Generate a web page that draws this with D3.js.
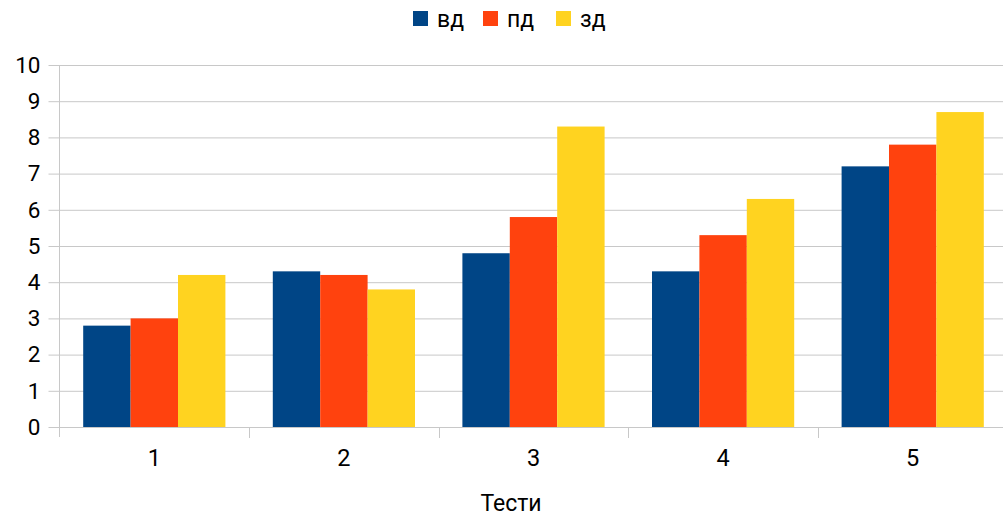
<!DOCTYPE html>
<html><head><meta charset="utf-8">
<script src="https://cdn.jsdelivr.net/npm/d3@7"></script>
<style>body{margin:0;background:#fff}svg{display:block;font-family:Roboto,"Liberation Sans",sans-serif}</style>
</head><body><svg id="c" width="1003" height="517"></svg>
<script>
const categories = ["1","2","3","4","5"];
const seriesNames = ["вд","пд","зд"];
const vd = [2.8,4.3,4.8,4.3,7.2];
const pd = [3.0,4.2,5.8,5.3,7.8];
const zd = [4.2,3.8,8.3,6.3,8.7];
const yTicks = [0,1,2,3,4,5,6,7,8,9,10];
const colors = ["#004586","#ff420e","#ffd320"];
const xTitle = "Тести";

const series = [vd,pd,zd];
const svg = d3.select("#c");
const L = 59.5, R = 1007.5, W = 1003, T = 65, B = 427;
const x = d3.scaleBand().domain(categories).range([L,R]).paddingInner(0).paddingOuter(0);
const xs = d3.scaleBand().domain(seriesNames).range([0,x.bandwidth()]).paddingInner(0).paddingOuter(0.5);
const y = d3.scaleLinear().domain([0,10]).range([B,T]);

// grid
const ya = d3.axisLeft(y).tickValues(yTicks).tickSize(-(W-L)).tickPadding(8);
const gy = svg.append("g").attr("transform",`translate(${L},0)`).call(ya);
gy.select(".domain").remove();
gy.selectAll(".tick line").attr("stroke","#c8c8c8").attr("x1",-11).attr("x2",W-L);
gy.selectAll(".tick text").attr("font-size",22.5).attr("fill","#000").attr("x",-19).attr("font-family","Roboto");

// vertical axis line
svg.append("line").attr("x1",L).attr("x2",L).attr("y1",T).attr("y2",B+10).attr("stroke","#c8c8c8");

// bars
categories.forEach((c,i)=>{
  series.forEach((s,j)=>{
    svg.append("rect")
      .attr("x", x(c)+xs(seriesNames[j]))
      .attr("width", xs.bandwidth())
      .attr("y", y(s[i]))
      .attr("height", y(0)-y(s[i]))
      .attr("fill", colors[j]);
  });
});

// x axis
const xa = d3.axisBottom(x).tickSize(0).tickPadding(22);
const gx = svg.append("g").attr("transform",`translate(0,${B})`).call(xa);
gx.select(".domain").remove();
gx.selectAll(".tick text").attr("font-size",23.5).attr("fill","#000").attr("font-family","Roboto");
svg.append("line").attr("x1",L).attr("x2",W).attr("y1",B+0.5).attr("y2",B+0.5).attr("stroke","#c8c8c8");
// category boundary ticks
const bounds = categories.map(c=>x(c));
svg.selectAll(".bt").data(bounds.slice(1)).enter().append("line")
  .attr("x1",d=>Math.round(d)+0.5).attr("x2",d=>Math.round(d)+0.5)
  .attr("y1",B).attr("y2",B+11).attr("stroke","#c8c8c8");

// x title
svg.append("text").attr("x",511).attr("y",511).attr("text-anchor","middle")
  .attr("font-size",23).attr("fill","#000").text(xTitle);

// legend
const lx = [413,483,556];
seriesNames.forEach((n,j)=>{
  svg.append("rect").attr("x",lx[j]).attr("y",11).attr("width",15).attr("height",15).attr("fill",colors[j]);
  svg.append("text").attr("x",lx[j]+24).attr("y",27).attr("font-size",23).attr("fill","#000").text(n);
});
</script></body></html>
